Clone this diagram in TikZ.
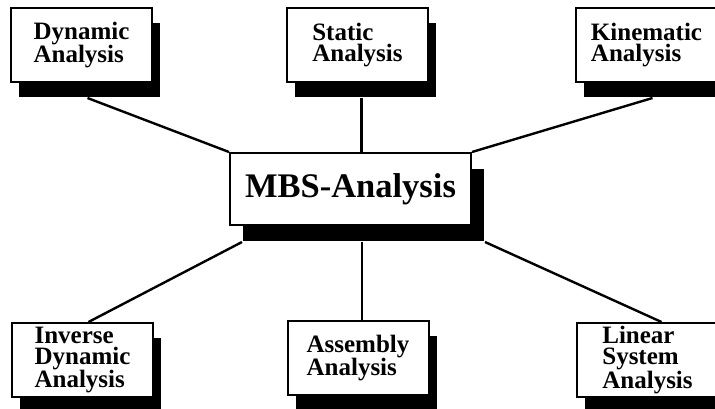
\documentclass[tikz,border=0pt]{standalone}
\usepackage{fontspec}
\setmainfont{Liberation Serif}
\usepackage{tikz}
\usetikzlibrary{positioning,shadows}
\tikzstyle{anabox}=[draw,fill=white,line width=2pt,minimum width=141pt,minimum height=74pt,inner sep=0pt,align=left,
    font=\bfseries\fontsize{25}{21}\selectfont,
    drop shadow={shadow xshift=8pt,shadow yshift=-15pt,fill=black,opacity=1}]
\tikzstyle{mainbox}=[draw,fill=white,line width=2pt,minimum width=241pt,minimum height=72pt,inner sep=0pt,
    font=\bfseries\fontsize{34.5}{40}\selectfont,
    drop shadow={shadow xshift=13pt,shadow yshift=-16pt,fill=black,opacity=1}]

\begin{document}
\begin{tikzpicture}[x=1pt,y=-1pt,line width=2.4pt]
    \path[use as bounding box,clip] (0,0) rectangle (715,408);
    \node [mainbox] (mbs) at (350.5,189) {MBS-Analysis};
    \node [anabox] (dyn) at (81.5,45) {Dynamic\\Analysis};
    \node [anabox] (stat) at (357.5,45) {Static\\Analysis};
    \node [anabox] (kin) at (646.5,45) {Kinematic\\Analysis};
    \node [anabox] (inv) at (82.5,360) {Inverse\\Dynamic\\Analysis};
    \node [anabox] (asm) at (358,358) {Assembly\\Analysis};
    \node [anabox] (lin) at (647.5,360) {Linear\\System\\Analysis};
    \draw ([xshift=6pt,yshift=-15pt]dyn.south) -- (mbs.north west);
    \draw ([xshift=4pt,yshift=-15pt]stat.south) -- ([xshift=4pt]stat.south |- mbs.north);
    \draw ([xshift=6pt,yshift=-15pt]kin.south) -- (mbs.north east);
    \draw ([xshift=6pt]inv.north) -- ([xshift=13pt,yshift=-16pt]mbs.south west);
    \draw ([xshift=4pt]asm.north) -- ([xshift=4pt,yshift=-16pt]asm.north |- mbs.south);
    \draw ([xshift=14pt]lin.north) -- ([xshift=13pt,yshift=-16pt]mbs.south east);
\end{tikzpicture}
\end{document}
